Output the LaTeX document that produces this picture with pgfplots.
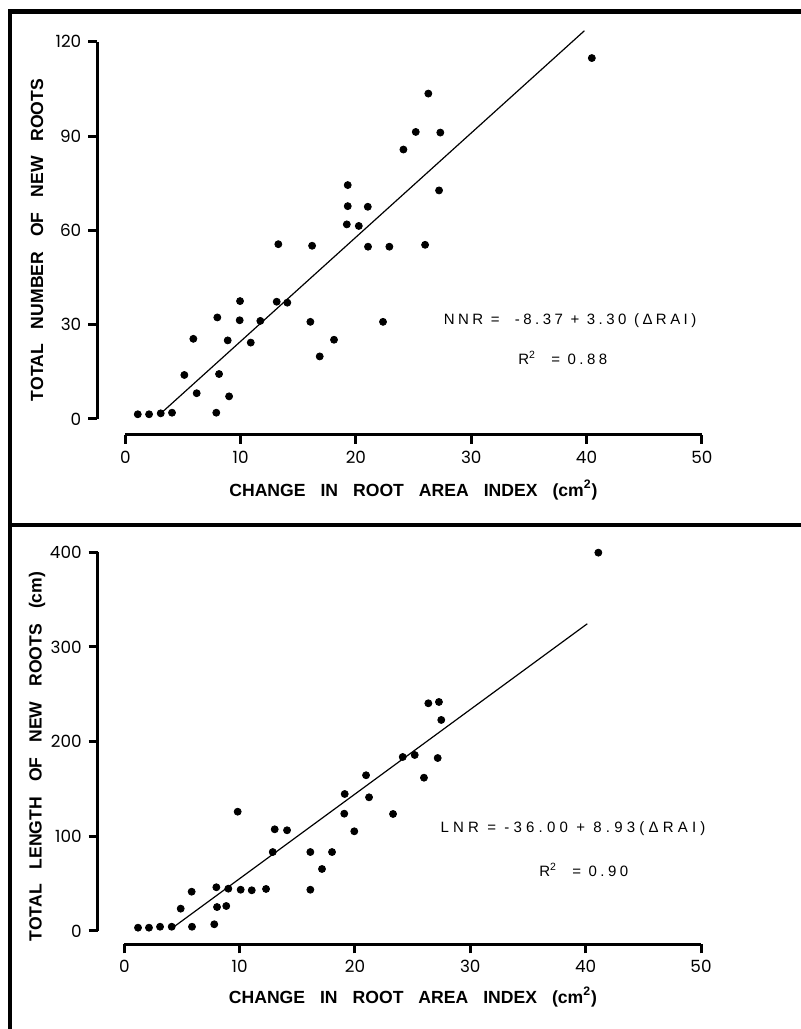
\documentclass[border=0pt]{standalone}
\usepackage{pgfplots}
\pgfplotsset{compat=1.18}
\usepackage{fontspec}
\setmainfont{Liberation Sans}
\newfontfamily\ticfont{Poppins}
\newfontfamily\eqfontA[LetterSpace=23]{Liberation Sans}
\newfontfamily\eqfontB[LetterSpace=28]{Liberation Sans}
\newcommand{\gap}{\hspace{0.85em}}

\tikzset{axln/.style={black, line width=1.5pt}}
\pgfplotsset{
  rootax/.style={
    clip=false,
    axis lines*=left,
    axis line style={draw=none},
    tick align=outside,
    major tick length=4.5pt,
    tick style={black, line width=1.5pt},
    xmax=50, xtick={0,10,...,50},
    /pgf/number format/assume math mode=true,
    tick label style={font=\fontsize{8.4}{10}\selectfont\ticfont},
    label style={font=\fontsize{8.8}{10}\selectfont\bfseries},
  },
  pts/.style={only marks, mark=*, mark size=1.75pt, black},
  fit/.style={black, line width=0.6pt, no marks},
}

\begin{document}
\begin{tikzpicture}
\useasboundingbox (0,0) rectangle (400.5pt,514.5pt);
% panel frame
\draw[line width=2.25pt] (4.9pt,-2pt) -- (4.9pt,508.65pt) -- (403pt,508.65pt);
\draw[line width=2pt] (4.9pt,252.15pt) -- (403pt,252.15pt);

% top: number of new roots
\begin{axis}[rootax,
    at={(48.65pt,297pt)}, anchor=south west,
    x=5.765pt, y=1.572pt,
    xmin=-2.43, ymin=-5.09,
    ymax=120, ytick={0,30,...,120},
    xlabel={CHANGE\gap IN\gap ROOT\gap AREA\gap INDEX\gap (cm\textsuperscript{2})},
    ylabel={TOTAL\gap NUMBER\gap OF\gap NEW\gap ROOTS},
    xlabel style={at={(axis description cs:0.523,-0.14)}, anchor=center},
    ylabel style={at={(axis description cs:-0.0998,0.496)}, anchor=center},
]
\draw[axln] (axis cs:-2.43,0) -- (axis cs:-2.43,120);
\draw[axln] (axis cs:0,-5.09) -- (axis cs:50,-5.09);
\addplot[pts] coordinates {
 (1.08,1.5) (2.06,1.5) (3.07,1.8) (4.05,2.0) (7.89,2.0)
 (5.12,14.0) (6.19,8.2) (5.90,25.5) (7.98,32.3) (8.13,14.3)
 (9.00,7.2) (8.88,25.0) (9.95,37.5) (9.92,31.4) (10.88,24.3)
 (11.71,31.2) (13.13,37.3) (14.05,37.0) (16.05,30.9) (16.86,19.9)
 (18.10,25.2) (22.35,30.9) (13.27,55.6) (16.20,55.1) (19.29,74.4)
 (19.29,67.7) (19.21,61.9) (20.25,61.4) (21.03,67.5) (21.05,54.8)
 (22.90,54.8) (24.12,85.7) (25.19,91.3) (27.32,91.1) (26.28,103.5)
 (27.21,72.7) (26.00,55.4) (40.46,114.8)
};
\addplot[fit] coordinates {(3.24,2.3) (39.82,123.5)};
\node[font=\fontsize{7.5}{9}\selectfont\eqfontA] at (axis cs:38.58,31.2) {NNR = \ -8.37 + 3.30 (ΔRAI)};
\node[font=\fontsize{7.5}{9}\selectfont\eqfontA] at (axis cs:37.94,19.5) {R\textsuperscript{2} \ = 0.88};
\end{axis}

% bottom: length of new roots
\begin{axis}[rootax,
    at={(48.85pt,42.35pt)}, anchor=south west,
    x=5.767pt, y=0.4734pt,
    xmin=-2.306, ymin=-14.05,
    ymax=400, ytick={0,100,...,400},
    xlabel={CHANGE\gap IN\gap ROOT\gap AREA\gap INDEX\gap (cm\textsuperscript{2})},
    ylabel={TOTAL\gap LENGTH\gap OF\gap NEW\gap ROOTS\gap (cm)},
    xlabel style={at={(axis description cs:0.5226,-0.1337)}, anchor=center},
    ylabel style={at={(axis description cs:-0.1006,0.479)}, anchor=center},
]
\draw[axln] (axis cs:-2.306,0) -- (axis cs:-2.306,400);
\draw[axln] (axis cs:0,-14.05) -- (axis cs:50,-14.05);
\addplot[pts] coordinates {
 (1.19,3.5) (2.14,3.5) (3.10,4.5) (4.11,4.5) (5.87,4.5)
 (7.80,7.1) (4.89,23.6) (5.84,41.5) (7.98,46.2) (8.04,25.3)
 (8.84,26.4) (9.02,44.7) (9.83,126.0) (10.09,43.6) (11.05,43.0)
 (12.29,44.4) (12.87,83.4) (13.04,107.4) (14.11,106.4) (16.13,83.4)
 (16.13,43.6) (17.14,65.5) (18.01,83.4) (19.11,144.7) (19.07,123.9)
 (19.94,105.3) (21.22,141.2) (23.30,123.6) (20.96,164.5) (24.14,183.8)
 (25.18,185.9) (27.17,182.7) (25.98,161.9) (27.48,222.9) (26.36,240.5)
 (27.28,241.9) (41.10,399.6)
};
\addplot[fit] coordinates {(4.31,4.5) (40.14,324.5)};
\node[font=\fontsize{7.5}{9}\selectfont\eqfontB] at (axis cs:38.9,108.5) {LNR = -36.00 + 8.93(ΔRAI)};
\node[font=\fontsize{7.5}{9}\selectfont\eqfontA] at (axis cs:39.84,64.4) {R\textsuperscript{2} \ = 0.90};
\end{axis}
\end{tikzpicture}
\end{document}
